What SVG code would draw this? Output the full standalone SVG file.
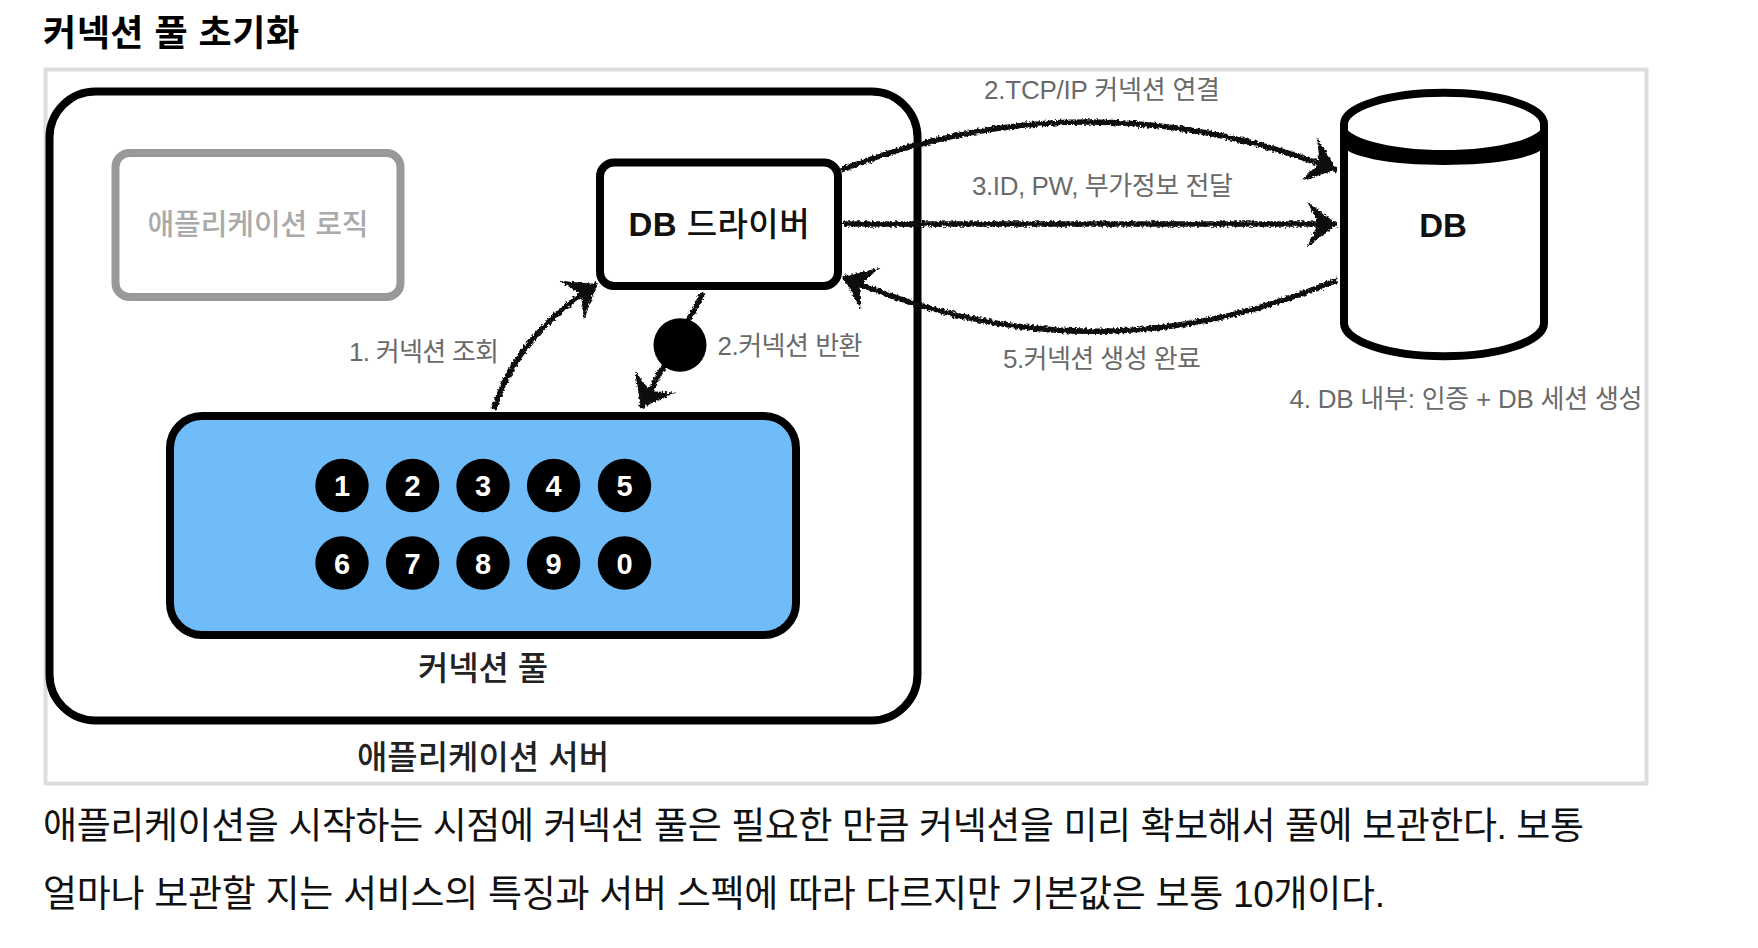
<svg xmlns="http://www.w3.org/2000/svg" width="1758" height="948" viewBox="0 0 1758 948">
<style>
text{font-family:"Liberation Sans","Noto Sans CJK KR",sans-serif;text-anchor:middle}
.lab{font-size:26px;fill:#6a6a6a}
.main{font-size:33px;font-weight:500;fill:#222}
.body{font-size:37px;fill:#111;text-anchor:start}
.box{fill:#fff;stroke:#000;stroke-width:8}
.num{fill:#000}
.numt{font-size:29px;font-weight:700;fill:#fff}
.conn{fill:none;stroke:#111;stroke-width:5.5}
</style>
<defs>
<filter id="rough" x="-5%" y="-20%" width="110%" height="140%" filterUnits="objectBoundingBox">
<feTurbulence type="fractalNoise" baseFrequency="0.4" numOctaves="2" seed="4" result="n"/>
<feDisplacementMap in="SourceGraphic" in2="n" scale="5" xChannelSelector="R" yChannelSelector="G"/>
</filter>
<marker id="head" markerUnits="userSpaceOnUse" markerWidth="44" markerHeight="48" refX="38" refY="24" orient="auto">
<path d="M38 24 L8 1 L19 24 L8 47 Z" fill="#111"/>
</marker>
</defs>
<rect width="1758" height="948" fill="#fff"/>
<text id="title" x="43" y="46" style="text-anchor:start;font-size:36px;font-weight:700;fill:#000" textLength="256">커넥션 풀 초기화</text>
<rect id="frame" x="45.5" y="69.5" width="1601" height="714" fill="#fff" stroke="#ddd" stroke-width="4"/>
<g id="app-server">
<rect class="box" x="49.5" y="91.5" width="868" height="629" rx="46"/>
<text class="main" x="483" y="768.5" textLength="252">애플리케이션 서버</text>
</g>
<g id="app-logic">
<rect x="115.5" y="153" width="285" height="144" rx="14" fill="#fff" stroke="#999" stroke-width="8"/>
<text x="258" y="234.5" style="font-size:29px;font-weight:500;fill:#aaa" textLength="221">애플리케이션 로직</text>
</g>
<g id="db-driver">
<rect class="box" x="600" y="162.5" width="238" height="123.5" rx="14"/>
<text x="719" y="236" style="font-size:33px;font-weight:500;fill:#111" textLength="181"><tspan font-weight="700">DB</tspan> 드라이버</text>
</g>
<g id="pool">
<rect x="170" y="416" width="626" height="219" rx="32" fill="#70bcf9" stroke="#000" stroke-width="8"/>
<text class="main" x="483" y="679.5" textLength="130">커넥션 풀</text>
</g>
<g id="conn-1"><circle class="num" cx="342" cy="485.5" r="26.7"/><text class="numt" x="342" y="496">1</text></g>
<g id="conn-2"><circle class="num" cx="412.6" cy="485.5" r="26.7"/><text class="numt" x="412.6" y="496">2</text></g>
<g id="conn-3"><circle class="num" cx="483" cy="485.5" r="26.7"/><text class="numt" x="483" y="496">3</text></g>
<g id="conn-4"><circle class="num" cx="553.6" cy="485.5" r="26.7"/><text class="numt" x="553.6" y="496">4</text></g>
<g id="conn-5"><circle class="num" cx="624.5" cy="485.5" r="26.7"/><text class="numt" x="624.5" y="496">5</text></g>
<g id="conn-6"><circle class="num" cx="342" cy="563" r="26.7"/><text class="numt" x="342" y="573.5">6</text></g>
<g id="conn-7"><circle class="num" cx="412.6" cy="563" r="26.7"/><text class="numt" x="412.6" y="573.5">7</text></g>
<g id="conn-8"><circle class="num" cx="483" cy="563" r="26.7"/><text class="numt" x="483" y="573.5">8</text></g>
<g id="conn-9"><circle class="num" cx="553.6" cy="563" r="26.7"/><text class="numt" x="553.6" y="573.5">9</text></g>
<g id="conn-0"><circle class="num" cx="624.5" cy="563" r="26.7"/><text class="numt" x="624.5" y="573.5">0</text></g>
<g id="db">
<path d="M1344 124 A99.5 31 0 0 1 1544 124 V323 A99.5 33 0 0 1 1344 323 Z" fill="#fff" stroke="#000" stroke-width="8"/>
<path d="M1344 123 A100 27 0 0 0 1544 123 V145 A100 20 0 0 1 1344 145 Z" fill="#000"/>
<text x="1443" y="237" style="font-size:33px;font-weight:700;fill:#111">DB</text>
</g>
<g id="connectors" filter="url(#rough)">
<path class="conn" d="M494 409 Q517 335 597 284" marker-end="url(#head)"/>
<path class="conn" d="M703 293 L641 408" marker-end="url(#head)"/>
<path class="conn" d="M841 170 Q1088 74 1337 170" marker-end="url(#head)"/>
<path class="conn" d="M843 224 L1337 224" marker-end="url(#head)"/>
<path class="conn" d="M1337 280 Q1090 384 843 277" marker-end="url(#head)"/>
</g>
<ellipse id="returned-connection" cx="680" cy="345" rx="26.5" ry="26.7" fill="#000"/>
<g id="labels">
<text class="lab" x="1102" y="98.5" textLength="236">2.TCP/IP 커넥션 연결</text>
<text class="lab" x="1102.5" y="194.5" textLength="261">3.ID, PW, 부가정보 전달</text>
<text class="lab" x="1102" y="368" textLength="198">5.커넥션 생성 완료</text>
<text class="lab" x="1466" y="407.5" textLength="353">4. DB 내부: 인증 + DB 세션 생성</text>
<text class="lab" x="424" y="360.5" textLength="150">1. 커넥션 조회</text>
<text class="lab" x="790" y="355" textLength="145">2.커넥션 반환</text>
</g>
<text class="body" x="43" y="839" textLength="1541">애플리케이션을 시작하는 시점에 커넥션 풀은 필요한 만큼 커넥션을 미리 확보해서 풀에 보관한다. 보통</text>
<text class="body" x="43" y="907" textLength="1342">얼마나 보관할 지는 서비스의 특징과 서버 스펙에 따라 다르지만 기본값은 보통 10개이다.</text>
</svg>
